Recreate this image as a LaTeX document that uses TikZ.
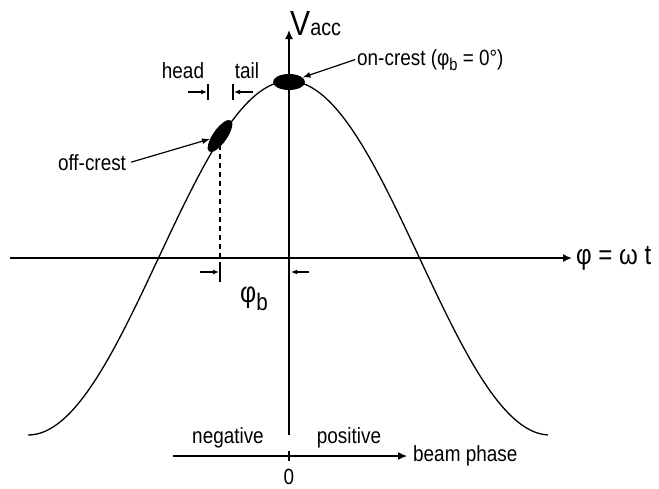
\documentclass[tikz,border=0pt]{standalone}
\usepackage{fontspec}
\setmainfont{Liberation Sans}[FakeStretch=0.86]
\usetikzlibrary{arrows.meta,shapes.geometric}
\newcommand{\phisub}[3]{{\fontsize{#1}{#1}\selectfont φ}\raisebox{-#3pt}{\fontsize{#2}{#2}\selectfont b}}
\begin{document}
\begin{tikzpicture}[x=1pt,y=-1pt,
    font=\fontsize{22}{24}\selectfont,
    axis/.style={line width=1.6pt,-{Latex[length=9pt,width=8pt]}},
    pointer/.style={line width=1.2pt,-{Latex[length=8pt,width=6pt]}},
    marker/.style={line width=1.2pt,-{Latex[length=6pt,width=5pt]}},
    bar/.style={line width=1.2pt},
    bunch/.style={ellipse,fill,inner sep=0pt},
    lbl/.style={inner sep=0pt}]
    \useasboundingbox (0,0) rectangle (659,488);
    % Assi
    \coordinate (O) at (289,258);
    \coordinate (xl) at (10,258);
    \coordinate (xr) at (572,258);
    \coordinate (yb) at (289,435);
    \coordinate (yt) at (289,30);
    \draw[axis] (xl) -- (xr);
    \draw[axis] (yb) -- (yt);
    \node[lbl,anchor=west] (phit) at ([xshift=4pt]xr) {\fontsize{28}{28}\selectfont φ = ω t};
    \node[lbl,anchor=base west] (vacc) at (290,35) {\fontsize{35}{35}\selectfont V\fontsize{23}{23}\selectfont acc};
    % Curva
    \draw[line width=1.3pt,domain=28:548,samples=120,smooth] plot (\x,{258-177*cos((\x-289)/130.5*90)});
    % Pacchetti
    \node[bunch,minimum width=32pt,minimum height=16pt] (onb) at (289,82) {};
    \coordinate (offc) at (220,136);
    \draw[bar,dash pattern=on 5pt off 4pt] (offc) -- (offc |- O);
    \node[bunch,minimum width=38pt,minimum height=14pt,rotate=55] (offb) at (offc) {};
    \node[lbl,anchor=base west] (onl) at (357,65) {on-crest (\phisub{22}{17}{5} = 0°)};
    \draw[pointer] ([xshift=-2pt]onl.west) -- (onb);
    \node[lbl,anchor=base] (offl) at (92,170) {off-crest};
    \draw[pointer] ([xshift=5pt]offl.east) -- (offb);
    % Testa e coda
    \node[lbl,anchor=base] (head) at (183,78) {head};
    \node[lbl,anchor=base] (tail) at (247,78) {tail};
    \coordinate (hm) at (208,92);
    \coordinate (tm) at (233,92);
    \draw[bar] ([yshift=8pt]hm) -- ([yshift=-8pt]hm);
    \draw[bar] ([yshift=8pt]tm) -- ([yshift=-8pt]tm);
    \draw[marker] ([xshift=-20pt]hm) -- ([xshift=-1pt]hm);
    \draw[marker] ([xshift=20pt]tm) -- ([xshift=1pt]tm);
    % Fase phi_b
    \coordinate (pm) at (220,272);
    \coordinate (qm) at (289,272);
    \draw[bar] ([yshift=10pt]pm) -- ([yshift=-10pt]pm);
    \draw[marker] ([xshift=-20pt]pm) -- ([xshift=-1pt]pm);
    \draw[marker] ([xshift=20pt]qm) -- ([xshift=2pt]qm);
    \node[lbl,anchor=base west] (phib) at (240,302) {\phisub{29}{24}{8}};
    % Fase del fascio
    \coordinate (bl) at (173,456);
    \coordinate (br) at (407,456);
    \coordinate (z) at (289,456);
    \draw[axis,line width=1.3pt] (bl) -- (br);
    \draw[bar] ([yshift=5pt]z) -- ([yshift=-5pt]z);
    \node[lbl,anchor=west] (beam) at ([xshift=6pt]br) {beam phase};
    \node[lbl,anchor=base] (zero) at (289,484) {0};
    \node[lbl,anchor=base] (neg) at (228,443) {negative};
    \node[lbl,anchor=base] (pos) at (349,443) {positive};
\end{tikzpicture}
\end{document}
